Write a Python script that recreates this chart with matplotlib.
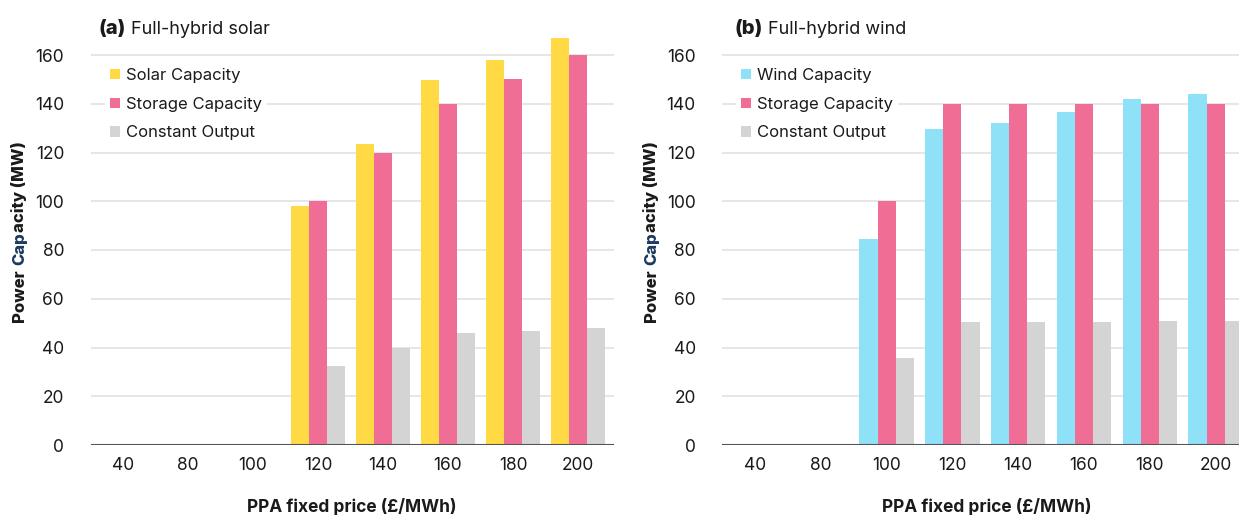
import matplotlib
matplotlib.use("Agg")
import matplotlib.pyplot as plt
import numpy as np

plt.rcParams["font.family"] = ["Inter", "DejaVu Sans"]

# PPA fixed prices (category labels)
prices = ["40", "80", "100", "120", "140", "160", "180", "200"]

# (a) Full-hybrid solar, MW
solar_capacity = [0, 0, 0, 98, 123.6, 149.6, 157.8, 166.8]
solar_storage = [0, 0, 0, 100, 120, 140, 150, 160]
solar_output = [0, 0, 0, 32.5, 40, 45.8, 46.8, 47.8]

# (b) Full-hybrid wind, MW
wind_capacity = [0, 0, 84.7, 129.5, 132, 136.7, 142, 143.8]
wind_storage = [0, 0, 100, 140, 140, 140, 140, 140]
wind_output = [0, 0, 35.8, 50.3, 50.3, 50.6, 50.9, 50.9]

YELLOW = "#FFDA45"
PINK = "#F06E96"
BLUE = "#8EE1F7"
GREY = "#D4D4D4"
NAVY = "#1C3A5E"
TXT = "#1a1a1a"

W, H = 1239, 515
fig = plt.figure(figsize=(W / 100, H / 100), dpi=100)

ax_b = 70 / H
ax_h = 419.25 / H
ax_a = fig.add_axes([90.5 / W, ax_b, 8.05 * 65.0 / W, ax_h])
ax_b2 = fig.add_axes([(755 - 0.5 * 65.8) / W, ax_b, 8.05 * 65.8 / W, ax_h])

bw = 0.275
x = np.arange(len(prices))


def draw_panel(ax, first, storage, output, first_label, first_color):
    ax.bar(x - bw, first, bw, color=first_color, label=first_label, zorder=3)
    ax.bar(x, storage, bw, color=PINK, label="Storage Capacity", zorder=3)
    ax.bar(x + bw, output, bw, color=GREY, label="Constant Output", zorder=3)
    ax.set_xlim(-0.5, 7.55)
    ax.set_ylim(0, 172)
    ax.set_yticks(np.arange(0, 161, 20))
    ax.set_xticks(x)
    ax.set_xticklabels(prices)
    ax.grid(axis="y", color="#E6E6E6", linewidth=1.4, zorder=0)
    ax.set_axisbelow(True)
    for s in ("top", "right", "left", "bottom"):
        ax.spines[s].set_visible(False)
    ax.axhline(0, color="#555555", linewidth=1.5, zorder=4)
    ax.tick_params(axis="both", length=0, labelsize=12.5, colors=TXT)
    ax.tick_params(axis="y", pad=19)
    ax.tick_params(axis="x", pad=9)
    ax.set_xlabel("PPA fixed price (£/MWh)", fontsize=12.5, fontweight="bold",
                  color=TXT, labelpad=17)
    leg = ax.legend(loc="upper left", bbox_to_anchor=(0.008, 0.935), fontsize=12,
                    frameon=True, facecolor="white", edgecolor="none",
                    framealpha=1, handlelength=0.6, handleheight=0.6,
                    handletextpad=0.35, labelspacing=0.82, borderpad=0.3,
                    borderaxespad=0.6)
    leg.set_zorder(5)
    for t in leg.get_texts():
        t.set_color(TXT)


draw_panel(ax_a, solar_capacity, solar_storage, solar_output, "Solar Capacity", YELLOW)
draw_panel(ax_b2, wind_capacity, wind_storage, wind_output, "Wind Capacity", BLUE)

fig.canvas.draw()
renderer = fig.canvas.get_renderer()
to_fig = fig.transFigure.inverted()


def chained_text(x0, y0, parts, rotation=0):
    """Write text pieces one after another, each with its own style."""
    px, py = fig.transFigure.transform((x0, y0))
    for txt, kw, gap in parts:
        fx, fy = to_fig.transform((px, py))
        t = fig.text(fx, fy, txt, rotation=rotation, rotation_mode="anchor",
                     ha="left", va="baseline", **kw)
        bb = t.get_window_extent(renderer)
        if rotation == 0:
            px = bb.x1 + gap
        else:
            py = bb.y1 + gap


for left_px, tag, name in ((99, "(a)", "Full-hybrid solar"),
                           (735, "(b)", "Full-hybrid wind")):
    chained_text(left_px / W, 1 - 34 / H, [
        (tag, dict(fontsize=14.5, fontweight="heavy", color=TXT), 5),
        (name, dict(fontsize=13, color=TXT), 0),
    ])

for xpx in (24, 656):
    chained_text(xpx / W, 1 - 322 / H, [
        ("Power", dict(fontsize=12, fontweight="heavy", color=TXT), 4),
        ("Cap", dict(fontsize=12, fontweight="heavy", color=NAVY), 0.5),
        ("acity (MW)", dict(fontsize=12, fontweight="heavy", color=TXT), 0),
    ], rotation=90)

fig.savefig("out.png", dpi=100)
